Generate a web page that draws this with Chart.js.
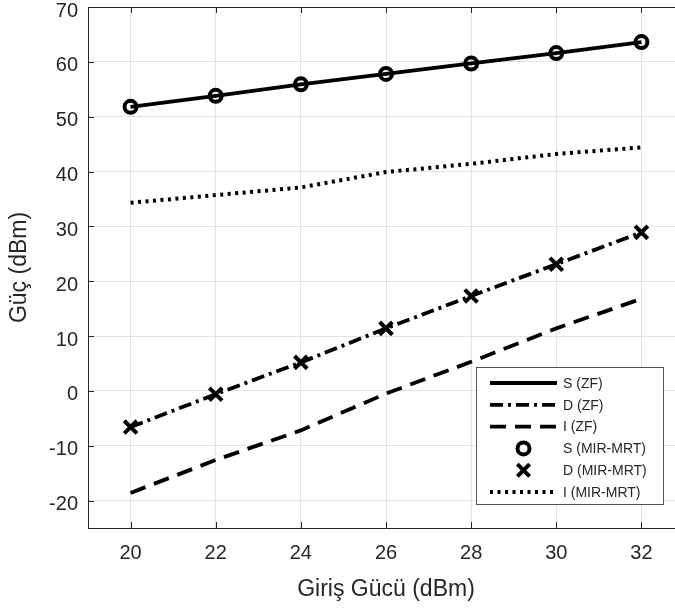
<!DOCTYPE html>
<html lang="tr">
<head>
<meta charset="UTF-8">
<title>Güç - Giriş Gücü</title>
<script src="https://cdn.jsdelivr.net/npm/chart.js@4"></script>
<style>
  html, body { margin: 0; padding: 0; background: #fff; overflow: hidden; }
  #wrap { width: 675px; height: 608px; overflow: hidden; }
</style>
</head>
<body>
<div id="wrap"><canvas id="myChart" width="700" height="608"></canvas></div>
<script>
// giriş gücü (dBm)
const girisGucu = [20, 22, 24, 26, 28, 30, 32];
const xTicks = [20, 22, 24, 26, 28, 30, 32];

// ZF
const sZF = [51.8, 53.8, 55.9, 57.8, 59.7, 61.6, 63.6];
const dZF = [-6.6, -0.6, 5.2, 11.4, 17.3, 23.1, 28.9];
const iZF = [-18.6, -12.6, -7.2, -0.5, 5.3, 11.4, 16.8];

// MIR-MRT
const sMIR = [51.8, 53.8, 55.9, 57.8, 59.7, 61.6, 63.6];
const dMIR = [-6.6, -0.6, 5.2, 11.4, 17.3, 23.1, 28.9];
const iMIR = [34.3, 35.7, 37.1, 39.9, 41.4, 43.2, 44.4];

const textColor = '#262626';
const fontFam = '"Liberation Sans", Arial, sans-serif';

function pts(arr) {
    return girisGucu.map((x, i) => ({ x: x, y: arr[i] }));
}

// MATLAB gibi içe dönük tick'ler ve üst çerçeve
const axisTicks = {
    id: 'axisTicks',
    afterDatasetsDraw(chart) {
        const { ctx, chartArea: a, scales: { x, y } } = chart;
        ctx.save();
        ctx.strokeStyle = textColor;
        ctx.lineWidth = 1;
        ctx.beginPath();
        ctx.moveTo(a.left, Math.round(a.top) + 0.5);
        ctx.lineTo(a.right, Math.round(a.top) + 0.5);
        x.ticks.forEach(t => {
            const px = Math.round(x.getPixelForValue(t.value)) + 0.5;
            ctx.moveTo(px, a.bottom); ctx.lineTo(px, a.bottom - 6);
            ctx.moveTo(px, a.top); ctx.lineTo(px, a.top + 6);
        });
        y.ticks.forEach(t => {
            const py = Math.round(y.getPixelForValue(t.value)) + 0.5;
            ctx.moveTo(a.left, py); ctx.lineTo(a.left + 6, py);
            ctx.moveTo(a.right, py); ctx.lineTo(a.right - 6, py);
        });
        ctx.stroke();
        ctx.restore();
    }
};

// grafik içindeki lejant (sağ alt)
const boxLegend = {
    id: 'boxLegend',
    afterDraw(chart) {
        const { ctx, chartArea: a } = chart;
        const w = 187, h = 137;
        const left = a.right - 21 - w;
        const top = a.bottom - 24 - h;
        ctx.save();
        ctx.fillStyle = '#fff';
        ctx.fillRect(left, top, w, h);
        ctx.strokeStyle = '#555';
        ctx.lineWidth = 1;
        ctx.strokeRect(Math.round(left) + 0.5, Math.round(top) + 0.5, w, h);

        ctx.font = '14px ' + fontFam;
        ctx.textBaseline = 'middle';
        ctx.textAlign = 'left';
        chart.data.datasets.forEach((ds, i) => {
            const cy = top + 16 + i * 21.8;
            const x0 = left + 14, x1 = left + 81;
            ctx.strokeStyle = '#000';
            ctx.lineWidth = ds.borderWidth;
            ctx.lineCap = 'butt';
            if (ds.showLine !== false) {
                ctx.setLineDash(ds.borderDash || []);
                ctx.beginPath();
                ctx.moveTo(x0, cy); ctx.lineTo(x1, cy);
                ctx.stroke();
                ctx.setLineDash([]);
            } else {
                const cx = (x0 + x1) / 2;
                ctx.lineWidth = ds.pointBorderWidth;
                ctx.beginPath();
                if (ds.pointStyle === 'circle') {
                    ctx.arc(cx, cy, ds.pointRadius, 0, Math.PI * 2);
                } else {
                    const r = ds.pointRadius * 0.68;
                    ctx.moveTo(cx - r, cy - r); ctx.lineTo(cx + r, cy + r);
                    ctx.moveTo(cx - r, cy + r); ctx.lineTo(cx + r, cy - r);
                }
                ctx.stroke();
            }
            ctx.fillStyle = textColor;
            ctx.fillText(ds.label, left + 87, cy + 1);
        });
        ctx.restore();
    }
};

const lineBase = {
    borderColor: '#000',
    borderWidth: 3.8,
    borderCapStyle: 'butt',
    pointRadius: 0,
    tension: 0,
    fill: false
};

const ctx = document.getElementById('myChart').getContext('2d');
const myChart = new Chart(ctx, {
    type: 'line',
    data: {
        datasets: [
            Object.assign({}, lineBase, { label: 'S (ZF)', data: pts(sZF), order: 3 }),
            Object.assign({}, lineBase, { label: 'D (ZF)', data: pts(dZF), borderDash: [13, 5, 3, 5], order: 3 }),
            Object.assign({}, lineBase, { label: 'I (ZF)', data: pts(iZF), borderDash: [16, 9], order: 3 }),
            { label: 'S (MIR-MRT)', data: pts(sMIR), showLine: false, pointStyle: 'circle', pointRadius: 6,
              pointBorderWidth: 4, pointBorderColor: '#000', pointBackgroundColor: 'rgba(0,0,0,0)', borderColor: '#000', order: 1 },
            { label: 'D (MIR-MRT)', data: pts(dMIR), showLine: false, pointStyle: 'crossRot', pointRadius: 9,
              pointBorderWidth: 4, pointBorderColor: '#000', pointBackgroundColor: '#000', borderColor: '#000', order: 1 },
            Object.assign({}, lineBase, { label: 'I (MIR-MRT)', data: pts(iMIR), borderWidth: 4, borderDash: [3, 4.5], order: 2 })
        ]
    },
    options: {
        responsive: false,
        animation: false,
        events: [],
        layout: { autoPadding: false, padding: { top: 7, right: 16, left: 0, bottom: 0 } },
        plugins: {
            legend: { display: false },
            tooltip: { enabled: false }
        },
        scales: {
            x: {
                type: 'linear',
                min: 19,
                max: 33,
                afterBuildTicks(s) { s.ticks = xTicks.map(v => ({ value: v })); },
                ticks: {
                    color: textColor,
                    padding: 13,
                    font: { family: fontFam, size: 20 }
                },
                grid: { color: '#e2e2e2', drawTicks: false },
                border: { color: textColor, width: 1 },
                title: {
                    display: true,
                    text: 'Giriş Gücü (dBm)',
                    color: textColor,
                    font: { family: fontFam, size: 23 },
                    padding: { top: 0, bottom: 5 }
                },
                afterFit(s) { s.height = 80; s.paddingLeft = 0; s.paddingRight = 0; }
            },
            y: {
                min: -25,
                max: 70,
                ticks: {
                    stepSize: 10,
                    includeBounds: false,
                    color: textColor,
                    padding: 10,
                    labelOffset: 4,
                    font: { family: fontFam, size: 20 }
                },
                grid: { color: '#e2e2e2', drawTicks: false },
                border: { color: textColor, width: 1 },
                title: {
                    display: true,
                    text: 'Güç (dBm)',
                    color: textColor,
                    font: { family: fontFam, size: 23 },
                    padding: { top: 6, bottom: 0 }
                },
                afterFit(s) { s.width = 88; s.paddingTop = 0; s.paddingBottom = 0; }
            }
        }
    },
    plugins: [axisTicks, boxLegend]
});
</script>
</body>
</html>
